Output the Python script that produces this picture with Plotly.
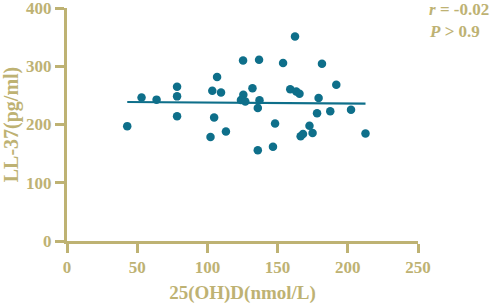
import plotly.graph_objects as go

# 25(OH)D values (nmol/L) and LL-37 values (pg/ml)
vit_d = [42.9, 53.1, 63.8, 78.4, 78.4, 78.4, 103.5, 106.9, 109.7, 104.8,
         102.2, 113.2, 125.4, 125.6, 123.9, 127.0, 132.1, 136.8, 137.1, 135.9,
         135.9, 148.2, 146.7, 153.9, 162.4, 159.0, 163.3, 165.6, 191.8, 181.6,
         179.2, 178.1, 187.5, 202.3, 172.7, 174.9, 166.4, 168.1, 212.6]
ll37 = [197.2, 246.2, 242.7, 265.0, 248.3, 214.2, 258.0, 281.5, 255.1, 212.2,
        178.4, 188.1, 310.0, 250.9, 242.0, 239.3, 262.4, 311.0, 241.5, 228.4,
        155.9, 201.8, 161.7, 305.7, 351.1, 260.7, 256.8, 252.9, 268.4, 304.2,
        245.4, 219.3, 222.7, 225.3, 197.7, 185.6, 179.8, 183.5, 184.7]

# fitted line as drawn
fit_x = [42.9, 212.6]
fit_y = [238.6, 236.0]

x_ticks = [0, 50, 100, 150, 200, 250]
y_ticks = [0, 100, 200, 300, 400]

gold = "rgb(190,178,115)"
teal = "#0e6f8a"
font = "Liberation Serif"

fig = go.Figure()
fig.add_trace(go.Scatter(x=fit_x, y=fit_y, mode="lines",
                         line=dict(color=teal, width=2.2), showlegend=False))
fig.add_trace(go.Scatter(x=vit_d, y=ll37, mode="markers",
                         marker=dict(color=teal, size=8.5), showlegend=False))

axis_common = dict(
    showgrid=False, zeroline=False, showline=True, linecolor=gold, linewidth=3,
    ticks="outside", ticklen=9, tickwidth=3, tickcolor=gold, automargin=False,
    ticklabeloverflow="allow",
    tickfont=dict(family=font, size=17, color=gold, weight="bold"),
)

fig.update_layout(
    width=500, height=304,
    margin=dict(l=67, r=82, t=8, b=63),
    plot_bgcolor="white", paper_bgcolor="white",
    xaxis=dict(range=[0, 250], tickvals=x_ticks, **axis_common,
               title=dict(text="<b>25(OH)D(nmol/L)</b>",
                          font=dict(family=font, size=19, color=gold))),
    yaxis=dict(range=[0, 400], tickvals=y_ticks, **axis_common,
               title=dict(text="<b>LL-37(pg/ml)</b>",
                          font=dict(family=font, size=20, color=gold))),
)

# stats text placed in paper coords from pixel positions
fig.add_annotation(text="<b><i>r</i> = -0.02</b>", xref="paper", yref="paper",
                   x=(427 - 67) / 351, y=(304 - 63 - 10) / 233,
                   showarrow=False, xanchor="left", yanchor="middle",
                   font=dict(family=font, size=17, color=gold))
fig.add_annotation(text="<b><i>P</i> > 0.9</b>", xref="paper", yref="paper",
                   x=(427 - 67) / 351, y=(304 - 63 - 31) / 233,
                   showarrow=False, xanchor="left", yanchor="middle",
                   font=dict(family=font, size=17, color=gold))

# drop the default page margin so the figure sits at the window's corner
fig.write_html("out.html", config={"displayModeBar": False},
               post_script="document.body.style.margin='0';")
